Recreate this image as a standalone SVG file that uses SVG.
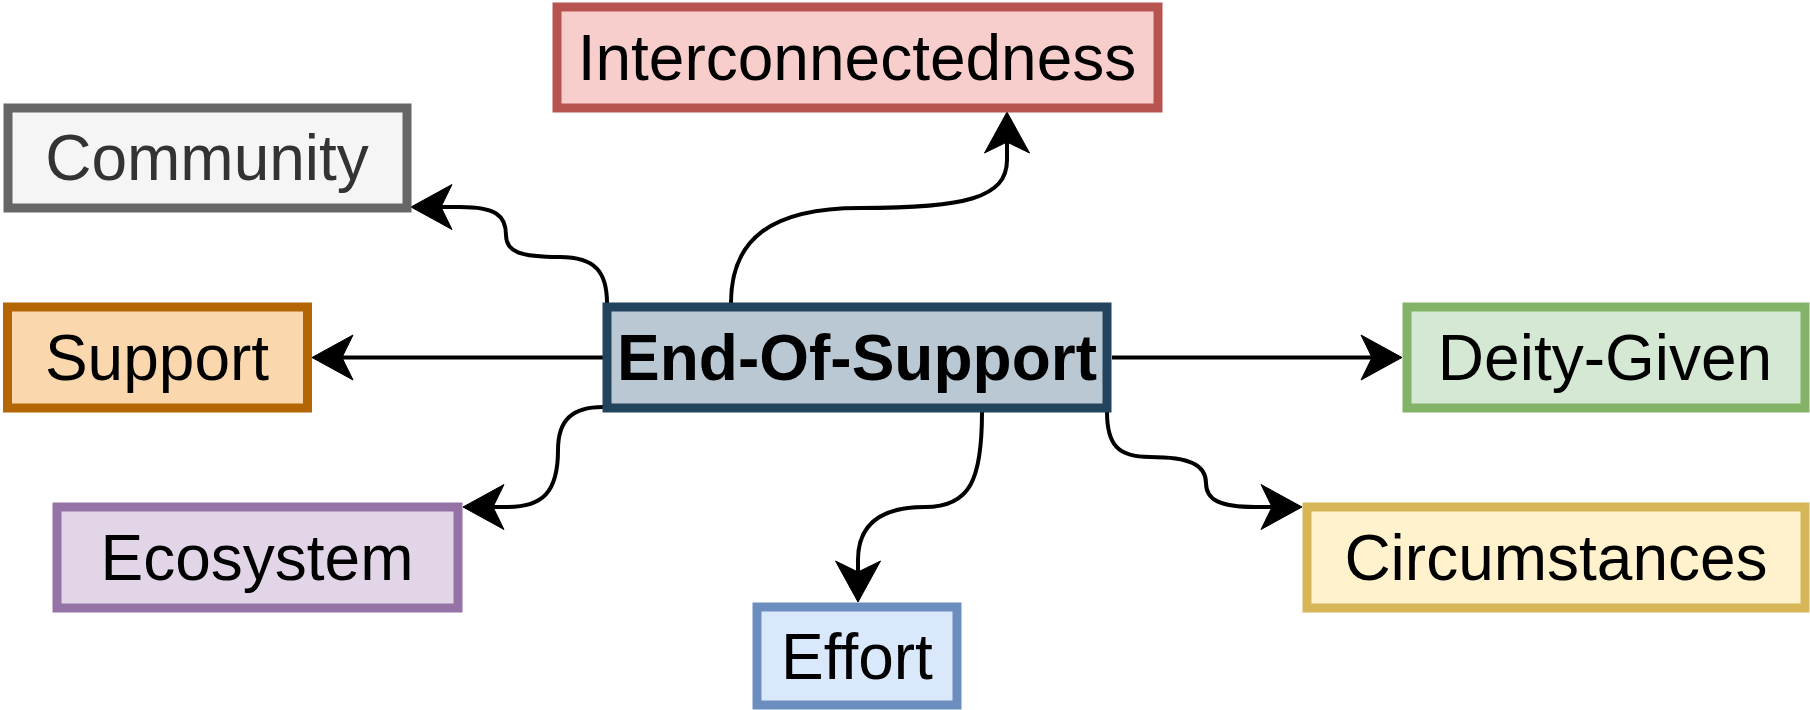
<svg xmlns="http://www.w3.org/2000/svg" width="1810" height="710" viewBox="0 0 1810 710">
<style>
.box{stroke-width:9}
.lbl{font-family:"Liberation Sans",Arial,Helvetica,sans-serif;font-size:64px;text-anchor:middle;fill:#000}
.edge{fill:none;stroke:#000;stroke-width:4}
</style>
<defs>
<marker id="arr" markerUnits="userSpaceOnUse" viewBox="-45 -25 50 50" markerWidth="50" markerHeight="50" refX="-30" refY="0" orient="auto">
<path d="M0,0 L-41,-22.5 L-30,0 L-41,22.5 Z" fill="#000" stroke="#000" stroke-width="1"/>
</marker>
</defs>
<rect width="1810" height="710" fill="#fff"/>
<g id="connectors">
<path class="edge" marker-end="url(#arr)" d="M731,303 C731,240 770,208 860,208 C965,208 1007,198 1007,160 L1007,142"/>
<path class="edge" marker-end="url(#arr)" d="M607,303 C607,272 595,257 560,257 C520,257 506,252 506,235 C506,215 495,207 460,207 L441,207"/>
<path class="edge" marker-end="url(#arr)" d="M603,357.5 L342,357.5"/>
<path class="edge" marker-end="url(#arr)" d="M603,407 C572,407 558,420 558,450 C558,493 542,507 507,507 L493,507"/>
<path class="edge" marker-end="url(#arr)" d="M982,412 C982,480 970,507 925,507 C880,507 858,525 858,560 L858,572"/>
<path class="edge" marker-end="url(#arr)" d="M1107,412 C1107,445 1118,457 1150,457 C1190,457 1206,465 1206,483 C1206,500 1220,507 1255,507 L1272,507"/>
<path class="edge" marker-end="url(#arr)" d="M1112,357.5 L1372,357.5"/>
</g>
<g id="node-interconnectedness">
<rect class="box" x="557" y="7" width="601" height="101" fill="#f8cecc" stroke="#b85450"/>
<text class="lbl" x="857" y="80">Interconnectedness</text>
</g>
<g id="node-community">
<rect class="box" x="8" y="108" width="399" height="100" fill="#f5f5f5" stroke="#666666"/>
<text class="lbl" x="207" y="180" style="fill:#333333">Community</text>
</g>
<g id="node-support">
<rect class="box" x="7.5" y="307" width="300" height="101" fill="#fad7ac" stroke="#b46504"/>
<text class="lbl" x="157" y="380">Support</text>
</g>
<g id="node-ecosystem">
<rect class="box" x="57" y="507" width="401" height="101" fill="#e1d5e7" stroke="#9673a6"/>
<text class="lbl" x="257" y="580">Ecosystem</text>
</g>
<g id="node-effort">
<rect class="box" x="757" y="607" width="200" height="98" fill="#dae8fc" stroke="#6c8ebf"/>
<text class="lbl" x="857" y="679">Effort</text>
</g>
<g id="node-circumstances">
<rect class="box" x="1307" y="507" width="498" height="101" fill="#fff2cc" stroke="#d6b656"/>
<text class="lbl" x="1556" y="580">Circumstances</text>
</g>
<g id="node-deity-given">
<rect class="box" x="1407" y="307" width="398" height="101" fill="#d5e8d4" stroke="#82b366"/>
<text class="lbl" x="1605" y="380">Deity-Given</text>
</g>
<g id="node-end-of-support">
<rect class="box" x="607" y="307" width="500" height="101" fill="#bac8d3" stroke="#23445d"/>
<text class="lbl" x="857" y="380" style="font-weight:bold">End-Of-Support</text>
</g>
</svg>
